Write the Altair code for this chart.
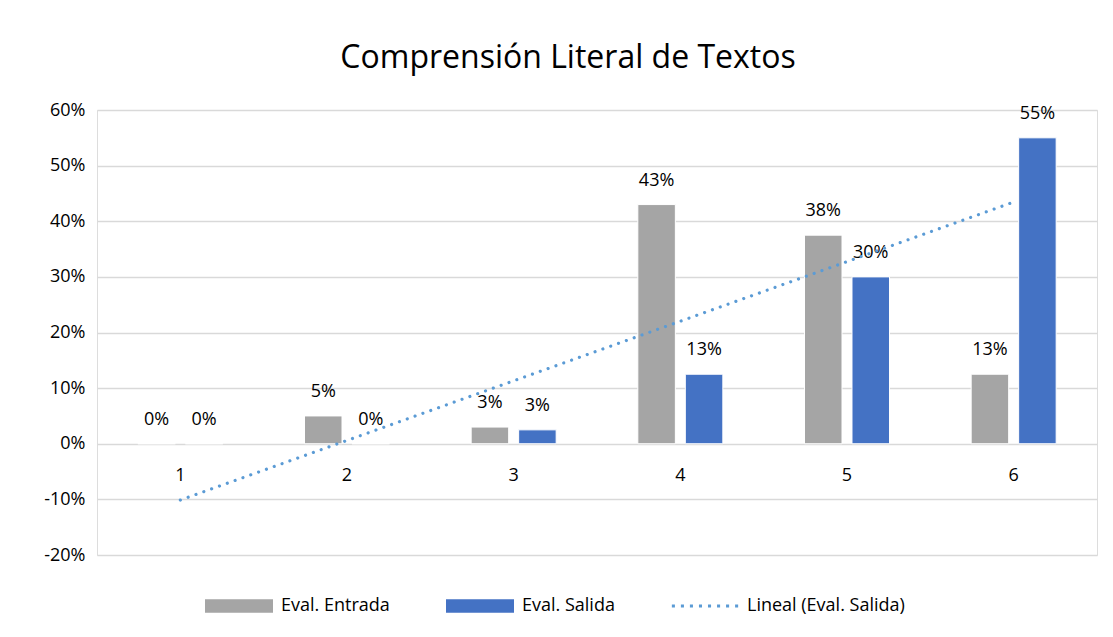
import altair as alt
import pandas as pd

categorias = [1, 2, 3, 4, 5, 6]
entrada = [0.0, 0.05, 0.03, 0.43, 0.375, 0.125]
salida = [0.0, 0.0, 0.025, 0.125, 0.30, 0.55]
series = ["Eval. Entrada", "Eval. Salida", "Lineal (Eval. Salida)"]
colores = ["#A5A5A5", "#4472C4", "#5B9BD5"]
y_ticks = [-0.2, -0.1, 0.0, 0.1, 0.2, 0.3, 0.4, 0.5, 0.6]

rows = []
for c, e, s in zip(categorias, entrada, salida):
    rows.append({"cat": c, "serie": series[0], "valor": e})
    rows.append({"cat": c, "serie": series[1], "valor": s})
df = pd.DataFrame(rows)

FONT = "Open Sans"

# legend symbol shapes (unit coordinates, scaled by symbol size)
rect_path = "M-1,-0.2H1V0.2H-1Z"
dots = []
for i in range(8):
    cx = -0.93 + i * (1.86 / 7)
    dots.append(f"M{cx-0.045:.3f},-0.045h0.09v0.09h-0.09Z")
dot_path = "".join(dots)
shapes = [rect_path, rect_path, dot_path]

x_enc = alt.X(
    "cat:O",
    scale=alt.Scale(paddingInner=0.49, paddingOuter=0.245),
    axis=alt.Axis(
        title=None, labelAngle=0, domain=False, ticks=False, grid=False,
        offset=-112, labelPadding=23, labelFontSize=18, labelColor="#000000",
        labelFont=FONT,
    ),
)
y_enc = alt.Y(
    "valor:Q",
    scale=alt.Scale(domain=[-0.2, 0.6], nice=False),
    axis=alt.Axis(
        title=None, format=".0%", values=y_ticks, domain=False, ticks=False,
        gridColor="#D9D9D9", gridWidth=1.3, labelFontSize=18, labelColor="#000000",
        labelFont=FONT, labelPadding=12,
        labelExpr="replace(datum.label, '\u2212', '-')",
    ),
)

base = alt.Chart(df)

bars = base.mark_bar(stroke="white", strokeWidth=1).encode(
    x=x_enc,
    y=y_enc,
    xOffset=alt.XOffset("serie:N", scale=alt.Scale(domain=series[:2], paddingInner=0.21)),
    fill=alt.Fill("serie:N", scale=alt.Scale(domain=series[:2], range=colores[:2]), legend=None),
)

labels = base.mark_text(
    baseline="bottom", dy=-15, fontSize=18, font=FONT, color="#000000"
).encode(
    x=alt.X("cat:O"),
    y=alt.Y("valor:Q"),
    xOffset=alt.XOffset("serie:N"),
    text=alt.Text("valor:Q", format=".0%"),
)

trend = base.transform_filter(
    alt.datum.serie == series[1]
).transform_regression(
    "cat", "valor", method="linear"
).mark_line(
    color="#5B9BD5", strokeWidth=3.2, strokeDash=[0.01, 8.3], strokeCap="round"
).encode(
    x=alt.X("cat:O"),
    y=alt.Y("valor:Q"),
)

leg = alt.Legend(
    title=None, orient="none", direction="horizontal",
    legendX=108, legendY=462, symbolSize=4624, symbolStrokeWidth=0,
    labelFontSize=18, labelFont=FONT, labelColor="#000000",
    labelOffset=8, columnPadding=56, symbolOpacity=1,
)

legend_layer = base.transform_filter("false").mark_point(filled=True, opacity=1).encode(
    x=alt.X("cat:O"),
    y=alt.Y("valor:Q"),
    color=alt.Color("serie:N", scale=alt.Scale(domain=series, range=colores), legend=leg),
    shape=alt.Shape("serie:N", scale=alt.Scale(domain=series, range=shapes), legend=leg),
)

chart = alt.layer(bars, labels, trend, legend_layer).properties(
    width=1000,
    height=445,
    title=alt.Title(
        "Comprensión Literal de Textos", fontSize=32, font=FONT, fontWeight="normal",
        color="#000000", anchor="middle", dx=-29, offset=26,
    ),
    autosize=alt.AutoSizeParams(type="none"),
    padding={"left": 89, "top": 102, "right": 8, "bottom": 70},
).configure_view(stroke=None).configure(background="white")

chart.save("out.html", embed_options={"renderer": "svg", "actions": False})
